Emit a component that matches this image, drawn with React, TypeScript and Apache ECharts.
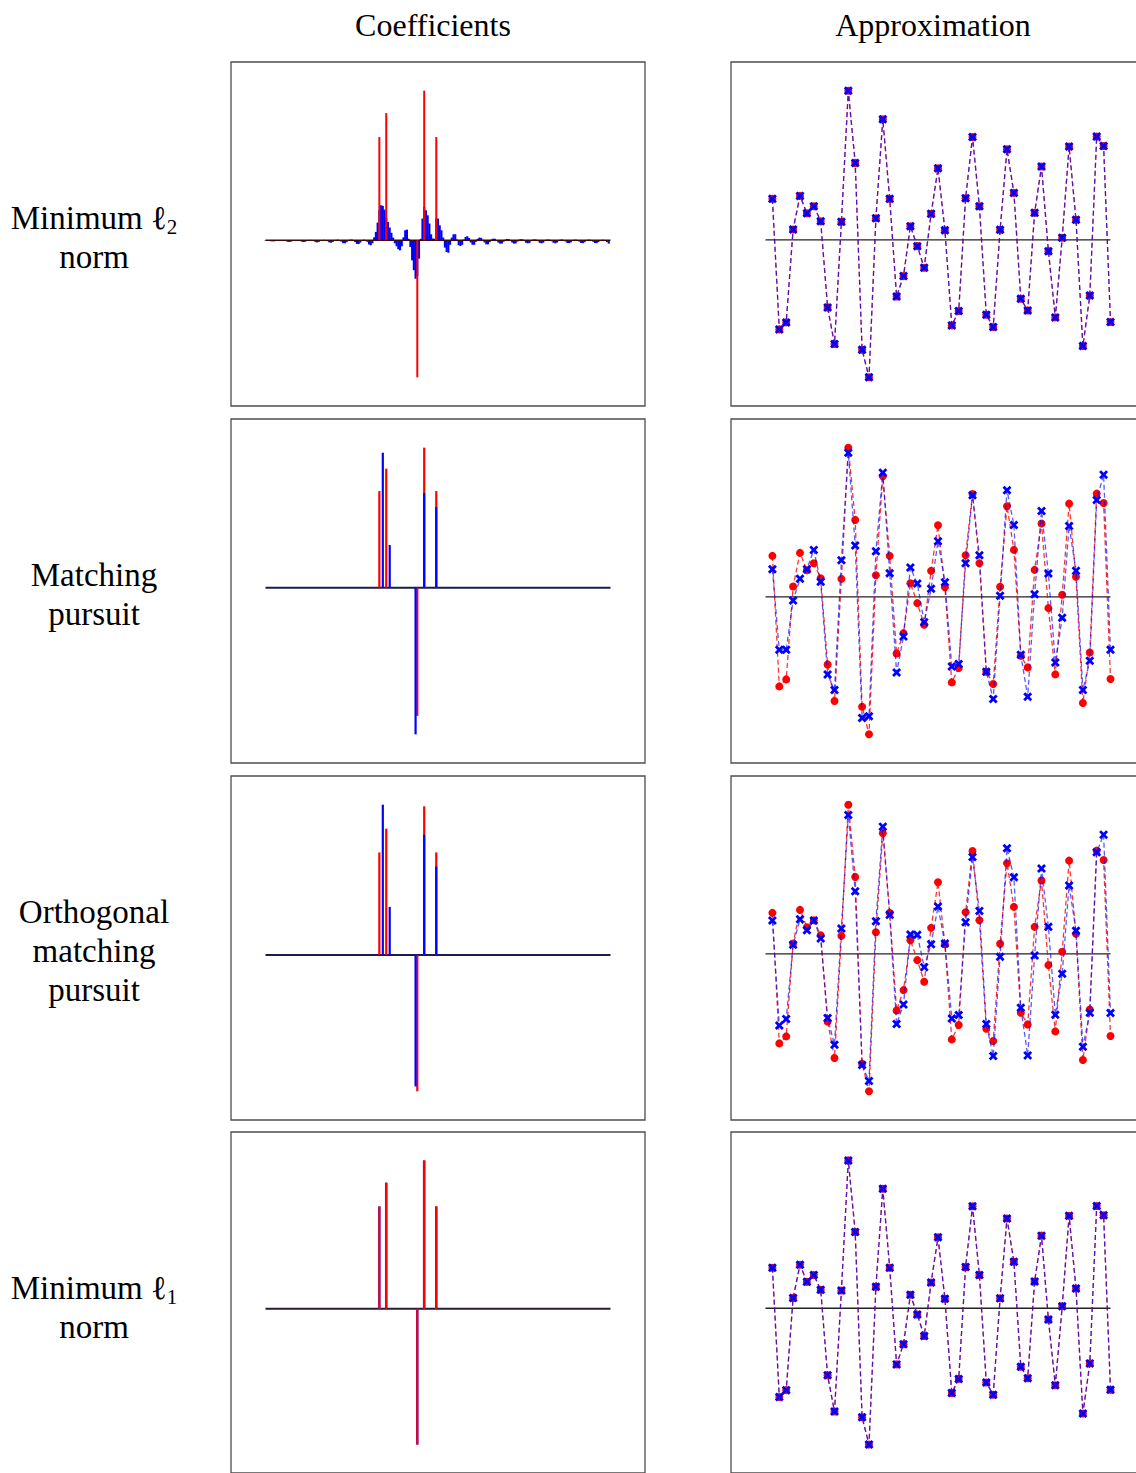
import { useEffect, useRef } from "react";
import * as echarts from "echarts";

const FONT = '"Liberation Serif", "DejaVu Serif", serif';

const columnTitles = ["Coefficients", "Approximation"];
const rowLabels = [
  "Minimum {l|ℓ}{s|2}\nnorm",
  "Matching\npursuit",
  "Orthogonal\nmatching\npursuit",
  "Minimum {l|ℓ}{s|1}\nnorm",
];

const COEF_COUNT = 200;
const SAMPLE_COUNT = 50;

// Sparse generating coefficients (index, value)
const trueSupport = [66, 70, 88, 92, 99];
const trueCoef = [0.69, 0.85, -0.916, 1.0, 0.69];

// Minimum l2-norm coefficients, one per dictionary atom
const l2Coef = [
  -0.002, -0.004, -0.005, -0.006, -0.007, -0.007, -0.005, -0.002, 0.001, 0.002,
  0.001, -0.002, -0.006, -0.01, -0.011, -0.008, -0.003, 0.001, 0.002, 0.001,
  -0.003, -0.009, -0.012, -0.01, -0.004, 0.001, 0.003, 0.001, -0.005, -0.012,
  -0.014, -0.01, -0.003, 0.002, 0.003, 0.001, -0.006, -0.014, -0.016, -0.011,
  -0.002, 0.003, 0.004, 0.0, -0.009, -0.019, -0.02, -0.013, -0.002, 0.004,
  0.005, 0.0, -0.012, -0.024, -0.025, -0.015, -0.002, 0.004, 0.002, -0.01,
  -0.028, -0.033, -0.02, 0.02, 0.056, 0.118, 0.2, 0.234, 0.23, 0.205,
  0.15, 0.123, 0.085, 0.05, 0.018, -0.02, -0.04, -0.06, -0.067, -0.04,
  0.02, 0.067, 0.071, 0.01, -0.045, -0.134, -0.2, -0.257, -0.24, -0.123,
  0.01, 0.145, 0.223, 0.2, 0.167, 0.112, 0.04, 0.012, 0.01, 0.145,
  0.145, 0.1, 0.067, 0.018, -0.049, -0.078, -0.083, -0.03, 0.018, 0.04,
  0.04, 0.005, -0.033, -0.038, -0.03, 0.005, 0.022, 0.027, 0.015, -0.015,
  -0.03, -0.03, -0.01, 0.01, 0.018, 0.016, 0.004, -0.015, -0.027, -0.027,
  -0.012, 0.005, 0.011, 0.01, 0.0, -0.015, -0.022, -0.022, -0.01, 0.004,
  0.009, 0.008, -0.002, -0.015, -0.022, -0.021, -0.009, 0.004, 0.007, 0.006,
  -0.004, -0.016, -0.02, -0.018, -0.006, 0.004, 0.006, 0.004, -0.006, -0.017,
  -0.02, -0.016, -0.005, 0.004, 0.005, 0.003, -0.007, -0.017, -0.02, -0.015,
  -0.004, 0.004, 0.005, 0.002, -0.008, -0.018, -0.019, -0.014, -0.003, 0.004,
  0.004, 0.001, -0.009, -0.018, -0.019, -0.013, -0.002, 0.004, 0.004, 0.0,
  -0.01, -0.018, -0.019, -0.012, -0.002, 0.003, 0.003, -0.001, -0.012, -0.022,
];

// Matching pursuit coefficients
const mpSupport = [68, 72, 87, 92, 99];
const mpCoef = [0.964, 0.305, -1.048, 0.676, 0.576];

// Orthogonal matching pursuit coefficients
const ompSupport = [68, 72, 87, 92, 99];
const ompCoef = [1.011, 0.324, -0.883, 0.809, 0.596];

// Minimum l1-norm coefficients
const l1Support = [66, 70, 88, 92, 99];
const l1Coef = [0.69, 0.85, -0.916, 1.0, 0.69];

// Observed signal, samples 1..50
const signal = [
  1.23, -2.69, -2.48, 0.31, 1.32, 0.8, 1.01, 0.56, -2.03, -3.13,
  0.54, 4.48, 2.31, -3.3, -4.13, 0.65, 3.62, 1.23, -1.7, -1.09,
  0.41, -0.19, -0.84, 0.78, 2.15, 0.29, -2.57, -2.14, 1.25, 3.09,
  1.01, -2.25, -2.62, 0.3, 2.72, 1.41, -1.77, -2.12, 0.81, 2.2,
  -0.34, -2.33, 0.06, 2.8, 0.6, -3.19, -1.67, 3.1, 2.82, -2.47,
];

// Both norm minimisers reproduce the signal exactly
const l2Approx = signal;
const l1Approx = signal;

const mpApprox = [
  0.83, -1.59, -1.59, -0.11, 0.54, 0.83, 1.41, 0.45, -2.33, -2.8,
  1.1, 4.33, 1.54, -3.64, -3.59, 1.37, 3.73, 0.71, -2.27, -1.19,
  0.88, 0.4, -0.76, 0.24, 1.67, 0.44, -2.09, -2.02, 1.01, 3.05,
  1.25, -2.25, -3.07, 0.03, 3.2, 2.16, -1.74, -3.0, 0.08, 2.58,
  0.7, -1.97, -0.63, 2.13, 0.78, -2.8, -1.92, 2.91, 3.67, -1.59,
];

const ompApprox = [
  1.0, -2.15, -1.96, 0.27, 1.04, 0.71, 1.0, 0.46, -1.93, -2.73,
  0.76, 4.17, 1.88, -3.34, -3.82, 0.98, 3.82, 1.17, -2.11, -1.52,
  0.58, 0.57, -0.4, 0.29, 1.42, 0.31, -1.94, -1.84, 0.95, 2.91,
  1.29, -2.11, -3.07, -0.09, 3.17, 2.3, -1.62, -3.05, -0.05, 2.56,
  0.81, -1.83, -0.6, 2.05, 0.69, -2.79, -1.77, 3.05, 3.58, -1.78,
];

const RED = "#ff0000";
const BLUE = "#0000ff";
const COL_LEFT = [231, 731];
const ROW_TOP = [62, 419, 776, 1132];
const BOX_W = 414;
const BOX_H = 344;
const CANVAS_W = 1160;
const VIEW_W = 1136;
const VIEW_H = 1473;

const CROSS =
  "path://M2.2,0 L5,2.8 L7.8,0 L10,2.2 L7.2,5 L10,7.8 L7.8,10 L5,7.2 L2.2,10 L0,7.8 L2.8,5 L0,2.2 Z";

function paddedRange(vals: number[]): [number, number] {
  const mn = Math.min(0, ...vals);
  const mx = Math.max(0, ...vals);
  const r = mx - mn;
  return [mn - 0.1 * r, mx + 0.1 * r];
}

function stems(gi: number, xs: number[], ys: number[], color: string, widthPx: number, z: number, unitWidth = false) {
  return {
    type: "custom",
    xAxisIndex: gi,
    yAxisIndex: gi,
    z,
    silent: true,
    data: xs.map((x, k) => [x, ys[k]]),
    encode: { x: 0, y: 1 },
    renderItem: (_p: any, api: any) => {
      const x = api.value(0);
      const y = api.value(1);
      const base = api.coord([x, 0]);
      const tip = api.coord([x, y]);
      const w = unitWidth ? api.size([1, 0])[0] + 0.4 : widthPx;
      return {
        type: "rect",
        shape: {
          x: base[0] - w / 2,
          y: Math.min(base[1], tip[1]),
          width: w,
          height: Math.max(0.5, Math.abs(tip[1] - base[1])),
        },
        style: { fill: color },
      };
    },
  };
}

function baseline(gi: number, n: number, color: string, width: number, z: number) {
  return {
    type: "line",
    xAxisIndex: gi,
    yAxisIndex: gi,
    z,
    silent: true,
    symbol: "none",
    data: [
      [0, 0],
      [n, 0],
    ],
    lineStyle: { color, width },
  };
}

function approxSeries(gi: number, vals: number[], color: string, symbol: string, size: number, opacity: number, z: number) {
  return {
    type: "line",
    xAxisIndex: gi,
    yAxisIndex: gi,
    z,
    silent: true,
    showAllSymbol: true,
    symbol,
    symbolSize: size,
    data: vals.map((v, i) => [i + 1, v]),
    itemStyle: { color, opacity: 1 },
    lineStyle: { color, width: 1.3, type: [5, 3], opacity },
  };
}

function buildOption() {
  const grids: any[] = [];
  const xAxes: any[] = [];
  const yAxes: any[] = [];
  const series: any[] = [];

  const coefRows = [
    { ys: [...l2Coef, ...trueCoef] },
    { ys: [...trueCoef, ...mpCoef] },
    { ys: [...trueCoef, ...ompCoef] },
    { ys: [...trueCoef, ...l1Coef] },
  ];
  const approxRows = [l2Approx, mpApprox, ompApprox, l1Approx];

  for (let r = 0; r < 4; r++) {
    for (let c = 0; c < 2; c++) {
      const gi = r * 2 + c;
      grids.push({
        left: COL_LEFT[c],
        top: ROW_TOP[r],
        width: BOX_W,
        height: BOX_H,
        show: true,
        borderColor: "#4d4d4d",
        borderWidth: 1.3,
        backgroundColor: "#ffffff",
      });
      const n = c === 0 ? COEF_COUNT : SAMPLE_COUNT;
      xAxes.push({ type: "value", gridIndex: gi, min: -0.1 * n, max: 1.1 * n, show: false });
      const yr = c === 0 ? paddedRange(coefRows[r].ys) : paddedRange([...signal, ...approxRows[r]]);
      yAxes.push({ type: "value", gridIndex: gi, min: yr[0], max: yr[1], show: false });
    }

    const gl = r * 2;
    const gr = r * 2 + 1;
    if (r === 0) {
      series.push(stems(gl, l2Coef.map((_, i) => i), l2Coef, BLUE, 0, 2, true));
      series.push(baseline(gl, COEF_COUNT, "#3a0a0a", 1.4, 3));
      series.push(stems(gl, trueSupport, trueCoef, RED, 2, 4));
    } else if (r === 1) {
      series.push(baseline(gl, COEF_COUNT, "#1c1c48", 2, 1));
      series.push(stems(gl, trueSupport, trueCoef, RED, 2.2, 3));
      series.push(stems(gl, mpSupport, mpCoef, BLUE, 2.2, 4));
    } else if (r === 2) {
      series.push(baseline(gl, COEF_COUNT, "#1c1c48", 2, 1));
      series.push(stems(gl, trueSupport, trueCoef, RED, 2.2, 3));
      series.push(stems(gl, ompSupport, ompCoef, BLUE, 2.2, 4));
    } else {
      series.push(baseline(gl, COEF_COUNT, "#2a1a3a", 2, 1));
      series.push(stems(gl, l1Support, l1Coef, "#6a1aa0", 2.6, 3));
      series.push(stems(gl, trueSupport, trueCoef, RED, 1.8, 4));
    }

    series.push(baseline(gr, SAMPLE_COUNT, "#222222", 1.4, 1));
    series.push(approxSeries(gr, signal, RED, "circle", 8, 0.8, 2));
    series.push(approxSeries(gr, approxRows[r], BLUE, CROSS, 9, 0.65, 3));
  }

  const graphic: any[] = [];
  const titleX = [433, 933];
  columnTitles.forEach((t, c) => {
    graphic.push({
      type: "text",
      x: titleX[c],
      y: 25,
      silent: true,
      style: {
        text: t,
        fontFamily: FONT,
        fontSize: 32,
        fill: "#000",
        align: "center",
        verticalAlign: "middle",
      },
    });
  });
  rowLabels.forEach((t, r) => {
    graphic.push({
      type: "text",
      x: 94,
      y: ROW_TOP[r] + BOX_H / 2 + 3,
      silent: true,
      style: {
        text: t,
        fontFamily: FONT,
        fontSize: 33,
        lineHeight: 39,
        fill: "#000",
        align: "center",
        verticalAlign: "middle",
        rich: {
          l: { fontFamily: FONT, fontSize: 33, lineHeight: 39, fill: "#000" },
          s: { fontFamily: FONT, fontSize: 21, lineHeight: 26, verticalAlign: "bottom", fill: "#000" },
        },
      },
    });
  });

  return {
    animation: false,
    backgroundColor: "#ffffff",
    grid: grids,
    xAxis: xAxes,
    yAxis: yAxes,
    series,
    graphic,
  };
}

export default function App() {
  const ref = useRef<HTMLDivElement>(null);
  useEffect(() => {
    if (!ref.current) return;
    const chart = echarts.init(ref.current, undefined, { renderer: "svg" });
    chart.setOption(buildOption() as any);
    return () => chart.dispose();
  }, []);
  return (
    <div
      style={{
        position: "absolute",
        left: 0,
        top: 0,
        width: VIEW_W,
        height: VIEW_H,
        overflow: "hidden",
        background: "#ffffff",
      }}
    >
      <div ref={ref} style={{ width: CANVAS_W, height: VIEW_H }} />
    </div>
  );
}
